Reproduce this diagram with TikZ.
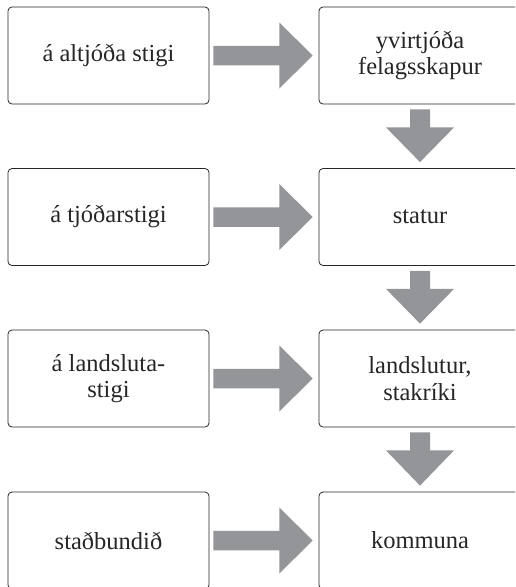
\documentclass[tikz,border=0pt]{standalone}
\usepackage{fontspec}
\setmainfont{Liberation Serif}
\usetikzlibrary{calc}
\definecolor{arrowgray}{RGB}{147,149,152}
\begin{document}
\begin{tikzpicture}[x=1pt,y=-1pt,
  box/.style={draw=black!85,line width=0.8pt,rounded corners=4pt,
    minimum width=201pt,minimum height=97pt,align=center,inner sep=0pt,
    text=black!85,font=\fontsize{24.5}{26.5}\selectfont},
  fat/.style={fill=arrowgray,draw=none}]
\useasboundingbox (0,0) rectangle (515,587);
\clip (0,0) rectangle (515,587);
% left column
\node[box] (l1) at (108.5,55.5) {á altjóða stigi};
\node[box] (l2) at (108.5,217) {á tjóðarstigi};
\node[box] (l3) at (108.5,378.5) {á landsluta-\\stigi};
\node[box] (l4) at (108.5,540.5) {staðbundið};
% right column
\node[box,minimum width=202pt] (r1) at (420,55.5) {yvirtjóða\\felagsskapur};
\node[box,minimum width=202pt] (r2) at (420,217) {statur};
\node[box,minimum width=202pt] (r3) at (420,378.5) {landslutur,\\stakríki};
\node[box,minimum width=202pt] (r4) at (420,540.5) {kommuna};
% right arrows
\foreach \i in {1,2,3,4}{
  \fill[fat] ($(l\i.east)+(4,-9.75)$) -- ++(66,0) -- ++(0,-23.25)
    -- ($(r\i.west)+(-6,0)$)
    -- ($(l\i.east)+(70,33)$) -- ++(0,-23.25) -- ($(l\i.east)+(4,9.75)$) -- cycle;
}
% down arrows
\foreach \i/\j in {1/2,2/3,3/4}{
  \fill[fat] ($(r\i.south)+(-10,5)$) -- ++(0,18) -- ++(-24,0)
    -- ($(r\j.north)+(0,-6)$)
    -- ($(r\i.south)+(34,23)$) -- ++(-24,0) -- ($(r\i.south)+(10,5)$) -- cycle;
}
\end{tikzpicture}
\end{document}
